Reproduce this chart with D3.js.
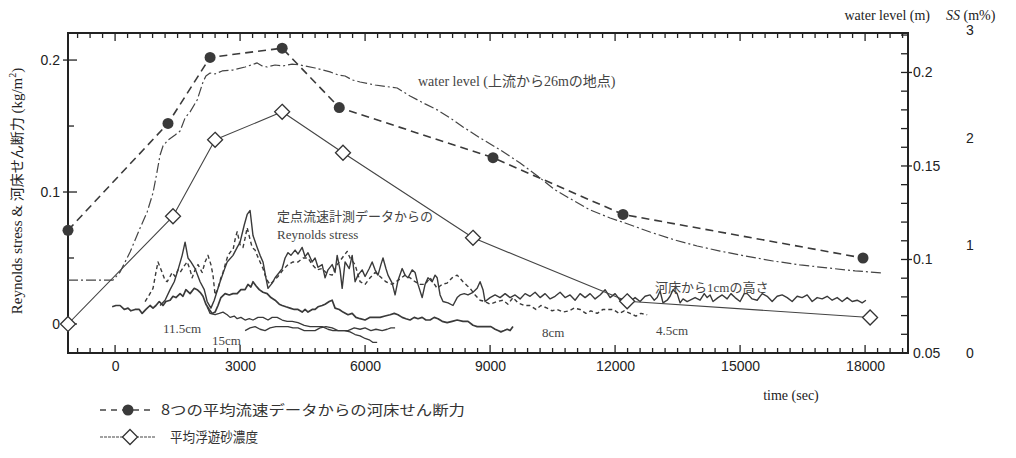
<!DOCTYPE html>
<html>
<head>
<meta charset="utf-8">
<script src="https://cdn.jsdelivr.net/npm/d3@7"></script>
<style>
	body { margin: 0; background: #fff; }
	svg { display: block; font-family: 'Liberation Serif', 'Noto Sans CJK JP', serif; }
</style>
</head>
<body>
<svg id="svg" width="1016" height="458"></svg>
<script>
// ---- data ----
const timeTicks = [0, 3000, 6000, 9000, 12000, 15000, 18000];
const stressTicks = [0, 0.1, 0.2];
const levelTicks = [0.05, 0.1, 0.15, 0.2];
const ssTicks = [0, 1, 2, 3];

// bed shear stress from 8 mean-velocity profiles [time s, kg/m2]
const bedShear = [[-1130, 0.071], [1270, 0.152], [2280, 0.202], [4010, 0.209],
	[5380, 0.164], [9070, 0.126], [12190, 0.083], [17950, 0.050]];

// mean suspended sediment concentration [time s, m%]
const ssConc = [[-1130, 0.27], [1390, 1.27], [2400, 1.98], [4010, 2.24],
	[5470, 1.86], [8590, 1.07], [12290, 0.48], [18120, 0.33]];

// water level 26 m downstream of inlet [time s, m]
const waterLevel = [[-1130, 0.089], [-50, 0.089], [120, 0.0933], [360, 0.104], [600, 0.1168],
	[770, 0.1254], [910, 0.1356], [980, 0.1436], [1080, 0.1559], [1150, 0.1607], [1270, 0.1639],
	[1440, 0.1666], [1560, 0.1687], [1680, 0.1757], [1800, 0.1789], [1970, 0.1853], [2110, 0.1949],
	[2180, 0.1981], [2280, 0.1997], [2400, 0.1992], [2570, 0.2008], [2830, 0.2013], [3120, 0.2029],
	[3410, 0.2051], [3530, 0.2035], [3650, 0.2029], [3840, 0.204], [4030, 0.2035], [4250, 0.2045],
	[4440, 0.204], [4800, 0.2024], [5160, 0.2003], [5350, 0.1987], [5520, 0.1981], [5690, 0.196],
	[5880, 0.1949], [6240, 0.1933], [6600, 0.1922], [6770, 0.1917], [7080, 0.1874], [7440, 0.1832],
	[7730, 0.18], [8040, 0.1757], [8350, 0.1709], [8760, 0.165], [9240, 0.1586], [9720, 0.1516],
	[10200, 0.1436], [10560, 0.1372], [10850, 0.1334], [11400, 0.1265], [11880, 0.1222],
	[12240, 0.1195], [12840, 0.1147], [13440, 0.1104], [13970, 0.1072], [14520, 0.1045],
	[15120, 0.1019], [15790, 0.0992], [16440, 0.0971], [17090, 0.0955], [17760, 0.0939], [18430, 0.0928]];

// Reynolds stress from point velocity measurements [time s, kg/m2]
const rs1cm = [[1080, 0.014], [1200, 0.018], [1320, 0.026], [1420, 0.032], [1510, 0.041], [1610, 0.052],
	[1680, 0.062], [1750, 0.050], [1820, 0.047], [1920, 0.042], [2040, 0.032], [2140, 0.026], [2210, 0.017],
	[2300, 0.012], [2380, 0.018], [2520, 0.032], [2620, 0.041], [2690, 0.047], [2830, 0.052], [2930, 0.058],
	[3000, 0.062], [3100, 0.075], [3170, 0.083], [3240, 0.086], [3310, 0.067], [3410, 0.058], [3480, 0.052],
	[3550, 0.047], [3620, 0.035], [3670, 0.027], [3770, 0.031], [3840, 0.035], [3940, 0.039], [4010, 0.042],
	[4080, 0.050], [4150, 0.054], [4220, 0.052], [4320, 0.056], [4390, 0.053], [4490, 0.058], [4560, 0.051],
	[4630, 0.054], [4730, 0.047], [4800, 0.050], [4870, 0.043], [4970, 0.045], [5040, 0.035], [5110, 0.041],
	[5210, 0.045], [5280, 0.039], [5330, 0.052], [5400, 0.041], [5450, 0.027], [5520, 0.047], [5620, 0.042],
	[5690, 0.052], [5760, 0.032], [5830, 0.037], [5930, 0.041], [6000, 0.036], [6100, 0.042], [6170, 0.047],
	[6240, 0.041], [6310, 0.037], [6380, 0.045], [6430, 0.050], [6500, 0.042], [6550, 0.037], [6650, 0.031],
	[6720, 0.022], [6790, 0.033], [6890, 0.042], [6960, 0.037], [7030, 0.035], [7130, 0.041], [7200, 0.039],
	[7270, 0.030], [7370, 0.020], [7440, 0.030], [7510, 0.035], [7610, 0.032], [7680, 0.037], [7730, 0.035],
	[7800, 0.022], [7870, 0.017], [7990, 0.016], [8110, 0.014], [8210, 0.020], [8280, 0.022], [8380, 0.023],
	[8470, 0.022], [8590, 0.024], [8690, 0.027], [8760, 0.032], [8830, 0.026], [8880, 0.017], [9000, 0.020],
	[9120, 0.022], [9240, 0.020], [9360, 0.023], [9480, 0.020], [9600, 0.022], [9720, 0.019], [9840, 0.023],
	[9960, 0.021], [10080, 0.024], [10200, 0.020], [10320, 0.023], [10440, 0.019], [10560, 0.021],
	[10680, 0.024], [10800, 0.020], [10920, 0.022], [11040, 0.018], [11160, 0.023], [11280, 0.020],
	[11400, 0.023], [11520, 0.019], [11640, 0.022], [11760, 0.026], [11880, 0.020], [12000, 0.023],
	[12120, 0.018], [12240, 0.020], [12360, 0.017], [12480, 0.020], [12600, 0.017], [12720, 0.021],
	[12840, 0.022], [12940, 0.018], [13010, 0.020], [13080, 0.025], [13150, 0.016], [13250, 0.018],
	[13320, 0.021], [13390, 0.026], [13490, 0.023], [13560, 0.016], [13630, 0.019], [13730, 0.017],
	[13800, 0.018], [13920, 0.020], [14040, 0.018], [14140, 0.023], [14210, 0.020], [14280, 0.022],
	[14350, 0.017], [14470, 0.020], [14570, 0.022], [14690, 0.019], [14780, 0.023], [14880, 0.020],
	[15000, 0.017], [15100, 0.023], [15170, 0.023], [15290, 0.019], [15410, 0.018], [15530, 0.023],
	[15650, 0.021], [15770, 0.017], [15890, 0.021], [16010, 0.022], [16130, 0.020], [16250, 0.017],
	[16370, 0.021], [16490, 0.020], [16610, 0.022], [16730, 0.017], [16850, 0.020], [16970, 0.019],
	[17090, 0.021], [17210, 0.018], [17330, 0.020], [17450, 0.017], [17570, 0.020], [17690, 0.017],
	[17810, 0.018], [17930, 0.016], [18020, 0.018]];

const rs4_5cm = [[720, 0.017], [820, 0.022], [910, 0.027], [980, 0.039], [1030, 0.047], [1080, 0.043],
	[1130, 0.039], [1200, 0.033], [1250, 0.032], [1320, 0.036], [1370, 0.039], [1440, 0.036], [1510, 0.041],
	[1560, 0.039], [1660, 0.044], [1730, 0.047], [1800, 0.041], [1850, 0.035], [1920, 0.041], [1990, 0.045],
	[2090, 0.039], [2160, 0.047], [2230, 0.052], [2300, 0.045], [2350, 0.037], [2400, 0.022], [2470, 0.027],
	[2540, 0.035], [2590, 0.039], [2660, 0.047], [2710, 0.052], [2780, 0.055], [2830, 0.056], [2880, 0.064],
	[2930, 0.070], [3000, 0.060], [3070, 0.058], [3120, 0.065], [3170, 0.073], [3240, 0.064], [3290, 0.058],
	[3360, 0.056], [3410, 0.052], [3480, 0.047], [3550, 0.042], [3600, 0.037], [3670, 0.032], [3720, 0.030],
	[3820, 0.033], [3910, 0.036], [4030, 0.041], [4150, 0.045], [4270, 0.047], [4390, 0.047], [4510, 0.050],
	[4630, 0.050], [4730, 0.045], [4850, 0.041], [4970, 0.042], [5090, 0.038], [5210, 0.037], [5330, 0.045],
	[5450, 0.050], [5570, 0.055], [5640, 0.050], [5760, 0.045], [5880, 0.032], [6000, 0.030], [6120, 0.035],
	[6240, 0.039], [6360, 0.036], [6500, 0.032], [6650, 0.030], [6790, 0.033], [6960, 0.037], [7080, 0.035],
	[7200, 0.032], [7320, 0.030], [7440, 0.030], [7560, 0.035], [7730, 0.027], [7850, 0.030], [7970, 0.031],
	[8090, 0.035], [8210, 0.037], [8350, 0.032], [8450, 0.029], [8520, 0.027], [8640, 0.022], [8760, 0.018],
	[8880, 0.017], [9000, 0.015], [9170, 0.017], [9310, 0.018], [9430, 0.015], [9550, 0.020], [9670, 0.016],
	[9820, 0.014], [9960, 0.014], [10100, 0.011], [10220, 0.014], [10370, 0.012], [10490, 0.010],
	[10610, 0.011], [10750, 0.009], [10900, 0.010], [11020, 0.012], [11160, 0.011], [11300, 0.008],
	[11420, 0.010], [11570, 0.008], [11710, 0.011], [11830, 0.011], [11950, 0.011], [12100, 0.008],
	[12220, 0.010], [12360, 0.008], [12500, 0.006], [12620, 0.008], [12770, 0.007]];

const rs8cm = [[-70, 0.013], [20, 0.014], [120, 0.014], [220, 0.011], [310, 0.012], [380, 0.010],
	[480, 0.011], [580, 0.011], [650, 0.008], [740, 0.011], [840, 0.014], [910, 0.012], [980, 0.014],
	[1060, 0.017], [1150, 0.014], [1220, 0.017], [1320, 0.018], [1390, 0.021], [1460, 0.020], [1560, 0.023],
	[1630, 0.021], [1700, 0.026], [1800, 0.023], [1900, 0.027], [1970, 0.026], [2040, 0.024], [2110, 0.021],
	[2180, 0.015], [2260, 0.011], [2330, 0.008], [2400, 0.009], [2470, 0.014], [2540, 0.020], [2640, 0.023],
	[2740, 0.022], [2830, 0.023], [2930, 0.023], [3020, 0.026], [3120, 0.026], [3190, 0.030], [3260, 0.028],
	[3310, 0.032], [3380, 0.029], [3460, 0.026], [3550, 0.024], [3650, 0.023], [3740, 0.020], [3840, 0.018],
	[3940, 0.015], [4010, 0.014], [4100, 0.013], [4200, 0.012], [4300, 0.011], [4390, 0.011], [4490, 0.009],
	[4560, 0.011], [4630, 0.009], [4730, 0.011], [4800, 0.011], [4870, 0.013], [4970, 0.014], [5040, 0.015],
	[5140, 0.017], [5210, 0.018], [5280, 0.012], [5380, 0.011], [5470, 0.009], [5590, 0.007], [5690, 0.008],
	[5780, 0.005], [5880, 0.004], [6000, 0.003], [6120, 0.005], [6240, 0.005], [6360, 0.005], [6480, 0.006],
	[6600, 0.007], [6700, 0.008], [6790, 0.007], [6890, 0.005], [6980, 0.004], [7080, 0.003], [7180, 0.005],
	[7270, 0.004], [7370, 0.005], [7460, 0.003], [7560, 0.003], [7660, 0.005], [7750, 0.004], [7850, 0.002],
	[7970, 0.001], [8090, 0.002], [8210, 0.003], [8350, 0.002], [8470, 0.002], [8590, -0.001], [8690, -0.002],
	[8810, -0.002], [8930, -0.002], [9020, -0.002], [9120, -0.004], [9190, -0.005], [9260, -0.006],
	[9340, -0.005], [9410, -0.004], [9480, -0.005], [9550, -0.002]];

const rs11_5cm = [[2210, 0.013], [2280, 0.008], [2400, 0.007], [2500, 0.008], [2590, 0.009], [2690, 0.007],
	[2760, 0.005], [2860, 0.006], [2930, 0.004], [3020, 0.005], [3120, 0.003], [3220, 0.004], [3310, 0.003],
	[3430, 0.005], [3550, 0.005], [3670, 0.003], [3770, 0.005], [3890, 0.005], [4010, 0.003], [4130, 0.002],
	[4250, 0.002], [4390, 0.001], [4540, -0.001], [4680, -0.002], [4820, -0.002], [4970, -0.002],
	[5110, -0.004], [5230, -0.005], [5350, -0.005], [5500, -0.005], [5640, -0.006], [5760, -0.008],
	[5880, -0.009], [6000, -0.011], [6100, -0.012], [6190, -0.014], [6290, -0.014]];

const rs15cm = [[3120, -0.005], [3240, -0.003], [3360, -0.002], [3480, -0.004], [3600, -0.005],
	[3720, -0.003], [3860, -0.002], [4010, -0.002], [4150, -0.002], [4270, -0.003], [4390, -0.003],
	[4540, -0.005], [4680, -0.005], [4800, -0.005], [4920, -0.003], [5060, -0.002], [5210, -0.003],
	[5350, -0.005], [5470, -0.005], [5590, -0.005], [5740, -0.003], [5880, -0.004], [6000, -0.003],
	[6140, -0.005], [6260, -0.004], [6410, -0.005], [6530, -0.004], [6620, -0.003], [6720, -0.003]];

const legendLabels = ['8つの平均流速データからの河床せん断力', '平均浮遊砂濃度'];

// ---- layout ----
const svg = d3.select('#svg');
const plotLeft = 68, plotRight = 908, plotTop = 33, plotBottom = 353;
const ink = '#222';

const x = d3.scaleLinear().domain([-1130, 19030]).range([plotLeft, plotRight]);
const yStress = d3.scaleLinear().domain([-0.022, 0.2205]).range([plotBottom, plotTop]);
const yLevel = d3.scaleLinear().domain([0.05, 0.2211]).range([plotBottom, plotTop]);
const ySS = d3.scaleLinear().domain([0, 3]).range([plotBottom, 30]);

const defs = svg.append('defs');
defs.append('clipPath').attr('id', 'plot-clip')
	.append('rect').attr('x', plotLeft).attr('y', plotTop)
	.attr('width', plotRight - plotLeft).attr('height', plotBottom - plotTop);

// frame, drawn as four plain lines
const frame = [
	[plotLeft, plotTop, plotRight, plotTop],
	[plotRight, plotTop, plotRight, plotBottom],
	[plotRight, plotBottom, plotLeft, plotBottom],
	[plotLeft, plotBottom, plotLeft, plotTop]
];
svg.append('g').selectAll('line')
	.data(frame)
	.enter()
	.append('line')
	.attr('x1', d => d[0]).attr('y1', d => d[1])
	.attr('x2', d => d[2]).attr('y2', d => d[3])
	.style('stroke', ink)
	.style('stroke-width', '2px')
	.style('stroke-linecap', 'square');

// tick marks drawn straight from the scales
const minorTimes = d3.range(-900, 19030, 300);
const timeMarks = minorTimes.map(t => ({ t, len: t % 3000 === 0 ? 8 : 5 }));
const minorLevels = d3.range(6, 23).map(d => d / 100);
const stressMarks = [0, 0.05, 0.1, 0.15, 0.2];

const tickG = svg.append('g');
function tickLine(sel) {
	return sel.style('stroke', ink).style('stroke-width', '1.3px');
}
[plotBottom, plotTop].forEach(yEdge => {
	const dir = yEdge === plotBottom ? -1 : 1;
	tickG.append('g').selectAll('line')
		.data(timeMarks)
		.enter()
		.append('line')
		.attr('x1', d => x(d.t)).attr('x2', d => x(d.t))
		.attr('y1', yEdge).attr('y2', d => yEdge + dir * d.len)
		.call(tickLine);
});
tickG.append('g').selectAll('line')
	.data(stressMarks)
	.enter()
	.append('line')
	.attr('x1', d => stressTicks.includes(d) ? plotLeft - 5 : plotLeft)
	.attr('x2', d => plotLeft + (stressTicks.includes(d) ? 9 : 6))
	.attr('y1', d => yStress(d)).attr('y2', d => yStress(d))
	.call(tickLine);
tickG.append('g').selectAll('line')
	.data(minorLevels)
	.enter()
	.append('line')
	.attr('x1', plotRight - 7)
	.attr('x2', d => levelTicks.some(v => Math.abs(v - d) < 1e-6) ? plotRight + 4 : plotRight)
	.attr('y1', d => yLevel(d)).attr('y2', d => yLevel(d))
	.call(tickLine);

function styleAxis(g) {
	g.select('.domain').remove();
	g.selectAll('.tick line').remove();
	g.selectAll('.tick text').attr('fill', '#222').attr('font-size', 14);
}

// tick labels
svg.append('g').attr('transform', `translate(0,${plotBottom})`)
	.call(d3.axisBottom(x).tickValues(timeTicks).tickSize(0).tickPadding(8).tickFormat(d3.format('d')))
	.call(styleAxis);
svg.append('g').attr('transform', `translate(${plotLeft},0)`)
	.call(d3.axisLeft(yStress).tickValues(stressTicks).tickSize(5).tickPadding(3)
		.tickFormat(d => d === 0 ? '0' : d3.format('.1f')(d)))
	.call(styleAxis);
svg.append('g').attr('transform', `translate(${plotRight},0)`)
	.call(d3.axisRight(yLevel).tickValues(levelTicks).tickSize(4).tickPadding(1)
		.tickFormat(d => String(+d.toFixed(2))))
	.call(styleAxis);
svg.append('g').attr('transform', 'translate(962,0)')
	.call(d3.axisRight(ySS).tickValues(ssTicks).tickSize(0).tickPadding(4).tickFormat(d3.format('d')))
	.call(styleAxis);

// axis titles
svg.append('text').attr('x', 930).attr('y', 20).attr('text-anchor', 'end')
	.attr('font-size', 14).attr('fill', '#222').text('water level (m)');
const ssTitle = svg.append('text').attr('x', 946).attr('y', 20).attr('font-size', 14).attr('fill', '#222');
ssTitle.append('tspan').attr('font-style', 'italic').text('SS');
ssTitle.append('tspan').text(' (m%)');
svg.append('text').attr('x', 791).attr('y', 400).attr('text-anchor', 'middle')
	.attr('font-size', 14).attr('fill', '#222').text('time (sec)');
const yTitle = svg.append('text')
	.attr('transform', 'translate(22,191) rotate(-90)')
	.attr('text-anchor', 'middle').attr('font-size', 15).attr('fill', '#222');
yTitle.append('tspan').text('Reynolds stress & ');
yTitle.append('tspan').attr('font-size', 14).text('河床せん断力');
yTitle.append('tspan').text(' (kg/m');
yTitle.append('tspan').attr('dy', -6).attr('font-size', 10).text('2');
yTitle.append('tspan').attr('dy', 6).text(')');

// ---- series ----
const plot = svg.append('g').attr('clip-path', 'url(#plot-clip)');
const stressLine = d3.line().x(d => x(d[0])).y(d => yStress(d[1]));
const levelLine = d3.line().x(d => x(d[0])).y(d => yLevel(d[1]));
const ssLine = d3.line().x(d => x(d[0])).y(d => ySS(d[1]));

function addPath(data, gen, width, dash, color) {
	plot.append('path').datum(data)
		.attr('d', gen)
		.attr('fill', 'none')
		.attr('stroke', color || '#3a3a3a')
		.attr('stroke-width', width)
		.attr('stroke-linejoin', 'round')
		.attr('stroke-dasharray', dash || null);
}

addPath(rs15cm, stressLine, 1.3);
addPath(rs11_5cm, stressLine, 1.3);
addPath(rs8cm, stressLine, 1.7);
addPath(rs4_5cm, stressLine, 1.4, '4,3');
addPath(rs1cm, stressLine, 1.4);
addPath(waterLevel, levelLine, 1.2, '10,3,2,3', '#444');
addPath(ssConc, ssLine, 1.1, null, '#444');
addPath(bedShear, stressLine, 1.6, '8,5', '#3a3a3a');

const diamond = 'M0,-7.5L7.5,0L0,7.5L-7.5,0Z';
svg.append('g').selectAll('path.ss')
	.data(ssConc)
	.enter()
	.append('path')
	.attr('class', 'ss')
	.attr('d', diamond)
	.attr('transform', d => `translate(${x(d[0])},${ySS(d[1])})`)
	.attr('fill', '#fff').attr('stroke', '#333').attr('stroke-width', 1.3);

svg.append('g').selectAll('circle')
	.data(bedShear)
	.enter()
	.append('circle')
	.attr('cx', d => x(d[0]))
	.attr('cy', d => yStress(d[1]))
	.attr('r', 5.5)
	.attr('fill', '#3a3a3a');

// ---- annotations ----
const notes = [
	{ text: 'water level (上流から26mの地点)', x: 418, y: 86, size: 14 },
	{ text: '定点流速計測データからの', x: 277, y: 221, size: 13 },
	{ text: 'Reynolds stress', x: 277, y: 239, size: 13 },
	{ text: '11.5cm', x: 163, y: 333, size: 13 },
	{ text: '15cm', x: 212, y: 345, size: 13 },
	{ text: '8cm', x: 542, y: 337, size: 13 },
	{ text: '4.5cm', x: 656, y: 335, size: 13 },
	{ text: '河床から1cmの高さ', x: 655, y: 292, size: 13 }
];
svg.append('g').selectAll('text')
	.data(notes)
	.enter()
	.append('text')
	.attr('x', d => d.x).attr('y', d => d.y)
	.attr('font-size', d => d.size)
	.attr('fill', '#444')
	.text(d => d.text);

// ---- legend ----
const legend = svg.append('g');
legend.append('line').attr('x1', 100).attr('x2', 152).attr('y1', 410).attr('y2', 410)
	.attr('stroke', '#444').attr('stroke-width', 1.4).attr('stroke-dasharray', '6,5');
legend.append('circle').attr('cx', 128).attr('cy', 410).attr('r', 5.5).attr('fill', '#3a3a3a');
legend.append('line').attr('x1', 100).attr('x2', 156).attr('y1', 437).attr('y2', 437)
	.attr('stroke', '#444').attr('stroke-width', 1.1).attr('stroke-dasharray', '3,1');
legend.append('path').attr('d', diamond).attr('transform', 'translate(130,437)')
	.attr('fill', '#fff').attr('stroke', '#333').attr('stroke-width', 1.3);
legend.selectAll('text.label')
	.data(legendLabels)
	.enter()
	.append('text')
	.attr('class', 'label')
	.attr('x', (d, i) => i === 0 ? 161 : 170)
	.attr('y', (d, i) => i === 0 ? 415 : 442)
	.attr('font-family', "'Noto Sans CJK JP', sans-serif")
	.attr('font-size', 14)
	.attr('textLength', (d, i) => i === 0 ? 304 : 88)
	.attr('lengthAdjust', 'spacingAndGlyphs')
	.attr('fill', '#333')
	.text(d => d);
</script>
</body>
</html>
